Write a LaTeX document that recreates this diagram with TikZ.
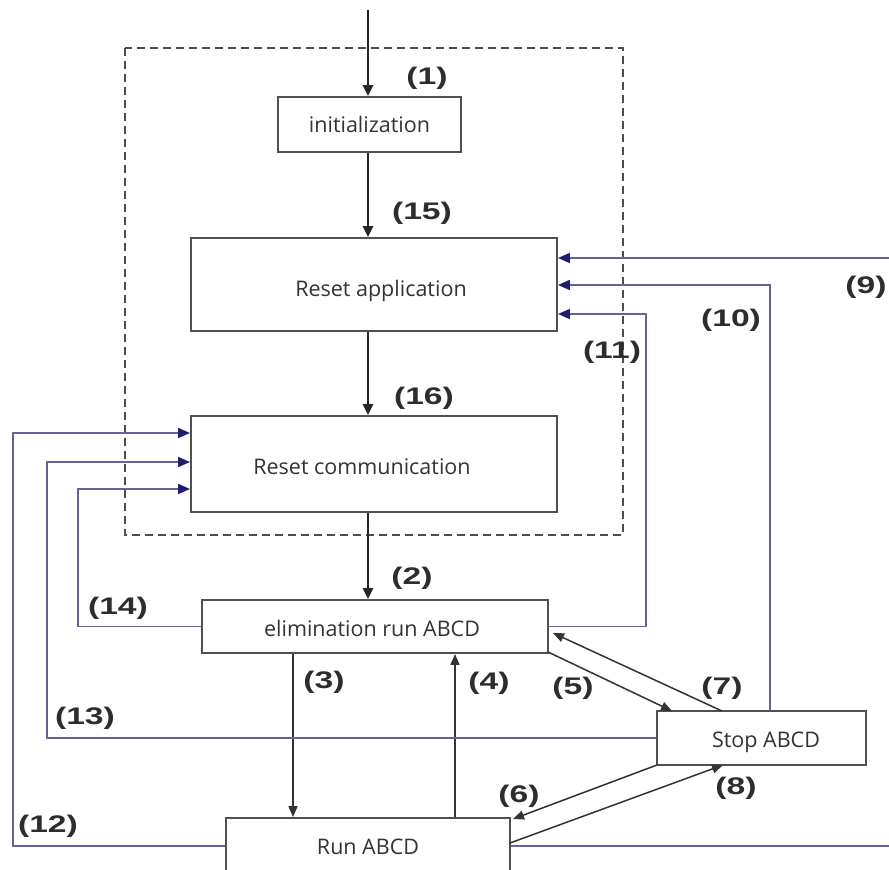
\documentclass[tikz,border=0pt]{standalone}
\usepackage{fontspec}
\setmainfont{Open Sans}
\newfontfamily\lblfont{Liberation Sans}[FakeStretch=1.4]
\usetikzlibrary{arrows.meta,calc}
\definecolor{lineblue}{RGB}{100,100,155}
\definecolor{headblue}{RGB}{30,30,110}
\definecolor{boxgray}{RGB}{80,80,80}
\definecolor{lblgray}{RGB}{45,45,45}
\newcommand{\shiftedtext}[3]{\raisebox{#2}[0pt][0pt]{\hspace*{#1}#3}}
\begin{document}
\begin{tikzpicture}[x=1pt,y=-1pt,
  box/.style={draw=boxgray,line width=1.9pt,fill=white,inner sep=0pt,
    font=\fontsize{21.5}{24}\selectfont,text=black!80},
  lbl/.style={font=\lblfont\bfseries\fontsize{24}{26}\selectfont,text=lblgray,inner sep=0pt},
  thickarr/.style={line width=2.8pt,black!85,-{Triangle[length=11pt,width=10pt]}},
  thinarr/.style={line width=1.5pt,black!80,-{Triangle[length=11pt,width=9pt]}},
  bluearr/.style={line width=1.7pt,lineblue,-{Triangle[length=12pt,width=10pt,color=headblue]}},
  blueline/.style={line width=1.7pt,lineblue}]
\useasboundingbox (0,0) rectangle (889,870);
\clip (0,0) rectangle (889,870);
\fill[white] (0,0) rectangle (889,870);

% dashed frame
\draw[dashed,dash pattern=on 8pt off 5pt,line width=1.7pt,black!70] (125,48) rectangle (623,535);

% boxes
\node[box,minimum width=183pt,minimum height=55pt] (init) at (369.5,124.5) {\shiftedtext{0pt}{-8pt}{initialization}};
\node[box,minimum width=366pt,minimum height=93pt] (resetapp) at (374,284.5) {\shiftedtext{14pt}{-12pt}{Reset application}};
\node[box,minimum width=366pt,minimum height=96pt] (resetcom) at (374,464) {\shiftedtext{-24pt}{-10.5pt}{Reset communication}};
\node[box,minimum width=346pt,minimum height=53pt] (elim) at (375,626.5) {\shiftedtext{-6pt}{-10pt}{elimination run ABCD}};
\node[box,minimum width=209pt,minimum height=54pt] (stop) at (761.5,738) {\shiftedtext{9pt}{-9pt}{Stop ABCD}};
\node[box,minimum width=284pt,minimum height=56pt] (run) at (368,846) {\shiftedtext{0pt}{-8pt}{Run ABCD}};

% coordinates
\coordinate (top) at (368,10);
\coordinate (r9a) at (889,258);
\coordinate (r9b) at (889,846);
\coordinate (c10) at (770,285);
\coordinate (c11) at (646,314);
\coordinate (c12) at (13,433);
\coordinate (c13) at (47,462);
\coordinate (c14) at (78,489);
\coordinate (x3) at (293,0);
\coordinate (x4) at (455,0);
\coordinate (s5) at (548,652);
\coordinate (e5) at (672,711);
\coordinate (s7) at (722,711);
\coordinate (e7) at (553,633);
\coordinate (s6) at (657,765);
\coordinate (e6) at (513,819);
\coordinate (s8) at (510,843);
\coordinate (e8) at (723,765);

% main flow
\draw[thickarr] (top) -- (top |- init.north);
\draw[thickarr] (init.south -| top) -- (resetapp.north -| top);
\draw[thickarr] (resetapp.south -| top) -- (resetcom.north -| top);
\draw[thickarr] (resetcom.south -| top) -- (elim.north -| top);

% thin black transitions
\draw[thinarr] (elim.south -| x3) -- (run.north -| x3);
\draw[thinarr] (run.north -| x4) -- (elim.south -| x4);
\draw[thinarr] (s5) -- (e5);
\draw[thinarr] (s7) -- (e7);
\draw[thinarr] (s6) -- (e6);
\draw[thinarr] (s8) -- (e8);

% blue returns
\draw[bluearr] (r9a) -- (resetapp.east |- r9a);
\draw[blueline] (run.east |- r9b) -- (r9b);
\draw[bluearr] (stop.north -| c10) -- (c10) -- (resetapp.east |- c10);
\draw[bluearr] (elim.east) -- (elim.east -| c11) -- (c11) -- (resetapp.east |- c11);
\draw[bluearr] (run.west) -- (run.west -| c12) -- (c12) -- (resetcom.west |- c12);
\draw[bluearr] (stop.west) -- (stop.west -| c13) -- (c13) -- (resetcom.west |- c13);
\draw[bluearr] (elim.west) -- (elim.west -| c14) -- (c14) -- (resetcom.west |- c14);

% labels
\node[lbl] (l1) at (427,78) {(1)};
\node[lbl] (l15) at (422,213) {(15)};
\node[lbl] (l16) at (424,398) {(16)};
\node[lbl] (l2) at (412,578) {(2)};
\node[lbl] (l3) at (324,682) {(3)};
\node[lbl] (l4) at (489,683) {(4)};
\node[lbl] (l5) at (573,688) {(5)};
\node[lbl] (l7) at (722,688) {(7)};
\node[lbl] (l6) at (519,796) {(6)};
\node[lbl] (l8) at (736,788) {(8)};
\node[lbl] (l14) at (118,608) {(14)};
\node[lbl] (l13) at (85,718) {(13)};
\node[lbl] (l12) at (48,826) {(12)};
\node[lbl] (l10) at (731,320) {(10)};
\node[lbl] (l11) at (612,352) {(11)};
\node[lbl] (l9) at (866,287) {(9)};
\end{tikzpicture}
\end{document}
